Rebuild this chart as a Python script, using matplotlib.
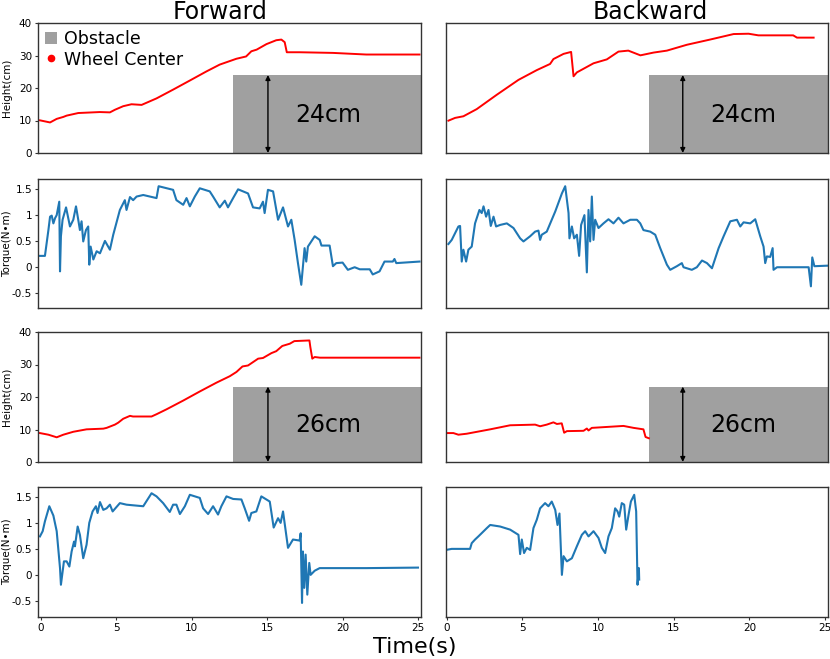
import matplotlib as mpl
mpl.use('Agg')
import matplotlib.pyplot as plt
from matplotlib.patches import Patch
from matplotlib.lines import Line2D

# ---- data ----
# Forward, 24cm obstacle: wheel-center height (cm)
fw24_h_t = [-0.07, 0.6, 1.04, 1.48, 1.7, 2.47, 3.9, 4.57, 4.9, 5.45, 6.0, 6.67, 7.66, 8.76, 9.87,
            10.97, 11.85, 12.96, 13.6, 13.95, 14.3, 14.95, 15.6, 15.94, 16.16, 16.3, 17.15, 19.36,
            21.57, 25.1]
fw24_h = [10.05, 9.4, 10.5, 11.1, 11.5, 12.3, 12.6, 12.5, 13.3, 14.4, 15.0, 14.8, 16.8, 19.5, 22.3,
          25.1, 27.2, 29.0, 29.7, 31.3, 31.8, 33.5, 34.7, 34.9, 34.1, 31.0, 31.0, 30.8,
          30.3, 30.3]

# Backward, 24cm obstacle: height
bw24_h_t = [0.11, 0.55, 1.1, 1.98, 3.3, 4.74, 5.95, 6.83, 7.05, 7.72, 8.22, 8.38, 8.6, 9.7, 10.58,
            11.35, 12.0, 12.8, 13.67, 14.55, 15.87, 17.4, 18.96, 19.95, 20.6, 22.9, 23.15, 24.25]
bw24_h = [9.95, 10.8, 11.3, 13.5, 17.9, 22.5, 25.5, 27.4, 28.9, 30.5, 31.1, 23.6, 24.8, 27.6, 28.8,
          31.2, 31.5, 30.05, 30.9, 31.5, 33.3, 34.9, 36.6, 36.7, 36.2, 36.2, 35.5, 35.5]

# Forward, 24cm: torque (N*m)
fw24_q_t = [-0.07, 0.26, 0.49, 0.6, 0.71, 0.82, 0.93, 1.04, 1.21, 1.26, 1.32, 1.43, 1.66, 1.92, 2.14,
            2.32, 2.47, 2.58, 2.69, 2.8, 2.98, 3.13, 3.2, 3.29, 3.47, 3.69, 3.91, 4.24, 4.57, 4.79,
            5.23, 5.56, 5.67, 5.9, 6.11, 6.34, 6.78, 7.66, 7.8, 8.76, 8.98, 9.43, 9.65, 9.87, 10.2,
            10.53, 11.19, 11.41, 11.85, 12.19, 12.4, 12.74, 13.07, 13.73, 14.06, 14.5, 14.72, 14.83,
            15.05, 15.39, 15.72, 16.05, 16.38, 16.6, 16.82, 17.04, 17.26, 17.48, 17.59, 17.7, 18.15,
            18.48, 18.6, 19.14, 19.36, 19.58, 20.0, 20.35, 20.8, 21.14, 21.8, 22.0, 22.45, 22.78,
            23.33, 23.44, 23.56, 25.1]
fw24_q = [0.21, 0.21, 0.71, 0.97, 0.99, 0.84, 0.94, 1.0, 1.26, -0.09, 0.59, 0.91, 1.15, 0.78, 0.91,
          1.17, 0.91, 0.71, 0.88, 0.49, 0.71, 0.78, 0.04, 0.39, 0.14, 0.30, 0.26, 0.5, 0.33, 0.62,
          1.10, 1.29, 1.10, 1.35, 1.29, 1.36, 1.39, 1.33, 1.56, 1.49, 1.29, 1.20, 1.33, 1.17, 1.36,
          1.52, 1.46, 1.36, 1.15, 1.28, 1.15, 1.33, 1.50, 1.42, 1.15, 1.13, 1.26, 1.04,
          1.49, 1.46, 0.91, 1.15, 0.78, 0.91, 0.52, 0.07, -0.35, 0.36, 0.10, 0.39, 0.59,
          0.52, 0.41, 0.41, 0.01, 0.07, 0.08, -0.06, -0.01, -0.05, -0.05, -0.15, -0.09, 0.10,
          0.10, 0.15, 0.07, 0.10]

# Backward, 24cm: torque
bw24_q_t = [0.11, 0.33, 0.77, 0.88, 0.99, 1.1, 1.28, 1.43, 1.65, 1.87, 2.16, 2.31, 2.43, 2.6, 2.76,
            2.91, 3.09, 3.26, 3.53, 3.97, 4.41, 4.85, 5.07, 5.51, 5.84, 6.06, 6.17, 6.28, 6.61, 7.17,
            7.61, 7.83, 8.05, 8.11, 8.27, 8.42, 8.6, 8.75, 8.88, 9.1, 9.26, 9.37, 9.48, 9.59, 9.7,
            9.81, 10.03, 10.36, 10.69, 11.02, 11.35, 11.68, 12.13, 12.57, 12.79, 13.0, 13.45, 13.78,
            14.11, 14.55, 14.77, 15.21, 15.54, 15.65, 16.2, 16.53, 16.87, 17.2, 17.53, 17.97, 18.3,
            18.74, 19.18, 19.4, 19.62, 20.06, 20.39, 20.72, 20.94, 21.05, 21.16, 21.38, 21.54, 21.6,
            21.83, 23.92, 24.07, 24.16, 24.3, 25.13]
bw24_q = [0.44, 0.52, 0.78, 0.79, 0.10, 0.33, 0.10, 0.33, 0.39, 0.84, 1.10, 1.04, 1.17, 0.97, 1.10,
          0.79, 0.97, 0.78, 0.81, 0.84, 0.75, 0.55, 0.49, 0.59, 0.68, 0.70, 0.52, 0.62, 0.68, 1.07,
          1.42, 1.56, 1.04, 0.55, 0.78, 0.55, 0.62, 0.21, 0.81, 1.0, -0.11, 1.10, 0.49, 1.36, 0.52,
          0.91, 0.75, 0.84, 0.92, 0.84, 0.95, 0.84, 0.91, 0.91, 0.84, 0.71, 0.68, 0.62,
          0.36, 0.04, -0.06, 0.01, 0.07, -0.01, -0.06, -0.01, 0.12, 0.07, -0.03, 0.36, 0.59,
          0.88, 0.91, 0.78, 0.86, 0.84, 0.92, 0.59, 0.39, 0.07, 0.20, 0.19, 0.36, -0.06,
          -0.01, -0.01, -0.38, 0.18, 0.01, 0.02]

# Forward, 26cm obstacle: height
fw26_h_t = [-0.07, 0.49, 1.04, 1.48, 2.14, 3.02, 4.13, 4.35, 4.9, 5.12, 5.45, 5.9, 6.1, 7.33, 7.66,
            8.32, 9.43, 10.53, 11.63, 12.52, 12.96, 13.36, 13.73, 14.4, 14.72, 15.28, 15.6, 16.0,
            16.5, 16.8, 17.8, 17.86, 17.99, 18.15, 18.5, 20.5, 25.1]
fw26_h = [8.9, 8.4, 7.6, 8.4, 9.3, 10.05, 10.26, 10.5, 11.5, 12.1, 13.3, 14.2, 14.0, 14.0, 14.7,
          16.2, 18.9, 21.7, 24.4, 26.4, 27.7, 29.4, 29.7, 31.8, 32.0, 33.5, 34.1, 35.7,
          36.4, 37.2, 37.4, 35.4, 31.8, 32.3, 32.1, 32.1, 32.1]

# Backward, 26cm obstacle: height
bw26_h_t = [-0.04, 0.44, 0.77, 1.32, 2.87, 4.19, 5.84, 6.17, 6.61, 7.05, 7.28, 7.6, 7.76, 7.94,
            9.04, 9.26, 9.37, 9.59, 11.68, 12.35, 13.0, 13.14, 13.36]
bw26_h = [8.9, 8.9, 8.4, 8.7, 10.05, 11.3, 11.5, 11.0, 11.5, 12.2, 11.7, 11.9, 9.0, 9.5,
          9.6, 10.3, 9.7, 10.5, 11.1, 10.5, 10.05, 7.7, 7.3]

# Forward, 26cm: torque
fw26_q_t = [-0.07, 0.11, 0.26, 0.55, 0.82, 1.04, 1.26, 1.32, 1.52, 1.7, 1.88, 2.03, 2.19, 2.25,
            2.43, 2.58, 2.8, 3.02, 3.2, 3.42, 3.64, 3.75, 3.91, 4.13, 4.35, 4.57, 4.75, 5.23, 5.67,
            6.78, 7.33, 7.66, 8.1, 8.54, 8.76, 8.98, 9.21, 9.54, 9.87, 10.53, 10.75, 11.08, 11.41,
            11.74, 11.96, 12.3, 12.74, 13.29, 13.51, 13.8, 13.95, 14.28, 14.61, 15.17, 15.43,
            15.72, 15.89, 16.05, 16.38, 16.71, 17.15, 17.22, 17.31, 17.37, 17.46, 17.55, 17.66,
            17.79, 17.88, 18.15, 18.48, 21.57, 25.0]
fw26_q = [0.75, 0.85, 1.04, 1.33, 1.15, 0.85, 0.14, -0.18, 0.27, 0.27, 0.17, 0.46, 0.65, 0.56,
          0.94, 0.78, 0.33, 0.59, 1.01, 1.23, 1.33, 1.20, 1.41, 1.26, 1.29, 1.36, 1.23, 1.39, 1.36,
          1.33, 1.58, 1.52, 1.39, 1.22, 1.36, 1.36, 1.18, 1.33, 1.55, 1.49, 1.29, 1.18, 1.33,
          1.17, 1.33, 1.52, 1.47, 1.46, 1.29, 1.05, 1.20, 1.23, 1.52, 1.42, 0.92,
          1.10, 1.01, 1.23, 0.53, 0.69, 0.67, 0.81, -0.53, 0.46, -0.24, 0.40, -0.37,
          0.24, 0.01, 0.09, 0.14, 0.14, 0.15]

# Backward, 26cm: torque
bw26_q_t = [-0.04, 0.33, 1.54, 1.65, 1.87, 2.09, 2.65, 2.87, 3.53, 4.19, 4.74, 4.85, 4.96, 5.11,
            5.29, 5.51, 5.73, 5.95, 6.17, 6.5, 6.72, 6.94, 7.17, 7.32, 7.45, 7.61, 7.72, 7.94, 8.27,
            8.6, 8.93, 9.15, 9.37, 9.7, 10.03, 10.25, 10.47, 10.69, 10.91, 11.13, 11.29, 11.4,
            11.57, 11.73, 11.86, 12.02, 12.17, 12.39, 12.52, 12.61, 12.7, 12.72]
bw26_q = [0.49, 0.51, 0.51, 0.62, 0.69, 0.75, 0.91, 0.97, 0.94, 0.88, 0.78, 0.41, 0.69, 0.43,
          0.53, 0.49, 0.91, 1.07, 1.29, 1.39, 1.33, 1.42, 1.26, 0.97, 1.19, 0.01, 0.37, 0.27, 0.33,
          0.56, 0.78, 0.85, 0.75, 0.85, 0.72, 0.53, 0.43, 0.75, 0.91, 1.29, 1.23, 1.13,
          1.39, 1.36, 0.88, 1.17, 1.42, 1.55, 1.23, -0.18, 0.14, -0.08]

# obstacle: (left edge in s, drawn height in cm, arrow x, label)
obstacles = [(12.7, 24.0, 15.05, '24cm'), (13.4, 24.0, 15.6, '24cm'),
             (12.73, 23.2, 15.05, '26cm'), (13.4, 23.2, 15.6, '26cm')]

height_ticks = [0, 10, 20, 30, 40]
torque_ticks = [-0.5, 0, 0.5, 1, 1.5]
torque_labels = ['-0.5', '0', '0.5', '1', '1.5']
time_ticks = [0, 5, 10, 15, 20, 25]

RED = '#ff0000'
BLUE = '#1f77b4'
GRAY = '#a0a0a0'
SPINE = '#333333'

W, H = 830, 659
fig = plt.figure(figsize=(W / 100, H / 100), dpi=100)


def box(x0, y0, x1, y1):
    # pixel box -> figure fraction
    return [x0 / W, 1 - y1 / H, (x1 - x0) / W, (y1 - y0) / H]


cols = [(38.3, 421.0), (445.7, 828.0)]
rows = [(23, 153), (179, 308), (332, 462), (487, 617)]
xlims = [(-0.18, 25.2), (-0.07, 25.2)]

height_data = [[(fw24_h_t, fw24_h), (bw24_h_t, bw24_h)],
               [(fw26_h_t, fw26_h), (bw26_h_t, bw26_h)]]
torque_data = [[(fw24_q_t, fw24_q), (bw24_q_t, bw24_q)],
               [(fw26_q_t, fw26_q), (bw26_q_t, bw26_q)]]

for block in range(2):
    for c in range(2):
        # height panel
        ax = fig.add_axes(box(cols[c][0], rows[2 * block][0], cols[c][1], rows[2 * block][1]))
        left, top, ax_x, lab = obstacles[2 * block + c]
        ax.fill_between([left, 30], 0, top, color=GRAY, lw=0, zorder=1)
        ax.annotate('', xy=(ax_x, 0), xytext=(ax_x, top),
                    arrowprops=dict(arrowstyle='<|-|>', color='black', lw=1,
                                    mutation_scale=7, shrinkA=0, shrinkB=0), zorder=3)
        ax.text(ax_x + 4.0, top * 0.49, lab, fontsize=17, ha='center', va='center', zorder=3)
        t, h = height_data[block][c]
        ax.plot(t, h, color=RED, lw=1.4, zorder=2)
        ax.set_ylim(0, 40)
        ax.set_xlim(*xlims[c])
        ax.set_xticks([])
        if c == 0:
            ax.set_yticks(height_ticks)
            ax.set_yticklabels([str(v) for v in height_ticks])
            fig.text(0.009, 1 - (rows[2 * block][0] + rows[2 * block][1]) / 2 / H, 'Height(cm)',
                     rotation=90, fontsize=7.5, ha='center', va='center')
        else:
            ax.set_yticks([])
        if block == 0 and c == 0:
            handles = [Patch(facecolor=GRAY, edgecolor='none'),
                       Line2D([], [], color=RED, marker='o', ls='none', markersize=4.5)]
            ax.legend(handles, ['Obstacle', 'Wheel Center'], loc='upper left', frameon=False,
                      fontsize=12.5, handlelength=0.7, handletextpad=0.4, borderaxespad=0.1,
                      labelspacing=0.15, borderpad=0.3)

        # torque panel
        ax2 = fig.add_axes(box(cols[c][0], rows[2 * block + 1][0], cols[c][1], rows[2 * block + 1][1]))
        t, q = torque_data[block][c]
        ax2.plot(t, q, color=BLUE, lw=1.5)
        ax2.set_ylim(-0.8, 1.7)
        ax2.set_xlim(*xlims[c])
        if c == 0:
            ax2.set_yticks(torque_ticks)
            ax2.set_yticklabels(torque_labels)
            fig.text(0.009, 1 - (rows[2 * block + 1][0] + rows[2 * block + 1][1]) / 2 / H,
                     'Torque(N\u2022m)', rotation=90, fontsize=7.5, ha='center', va='center')
        else:
            ax2.set_yticks([])
        if block == 1:
            ax2.set_xticks(time_ticks)
            ax2.set_xticklabels([str(v) for v in time_ticks])
        else:
            ax2.set_xticks([])

for ax in fig.axes:
    for s in ax.spines.values():
        s.set_color(SPINE)
        s.set_linewidth(1.0)
    ax.tick_params(length=2.5, width=0.8, pad=2, labelsize=7.5, color=SPINE)

fig.text(220 / W, 0.971, 'Forward', fontsize=17, ha='center', va='baseline')
fig.text(650 / W, 0.971, 'Backward', fontsize=17, ha='center', va='baseline')
fig.text(415 / W, 1 - 647 / H, 'Time(s)', fontsize=16, ha='center', va='center')

fig.savefig('out.png', dpi=100)
